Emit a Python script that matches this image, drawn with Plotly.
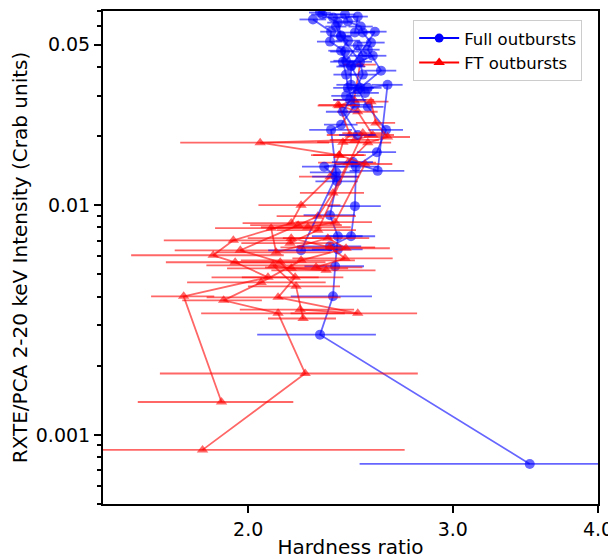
import plotly.graph_objects as go

# Full outbursts (hardness ratio, intensity in Crab, hardness error)
full1_hr = [2.274, 2.357, 2.352, 2.423, 2.413, 2.428, 2.437, 2.471, 2.404, 2.357, 2.380, 2.385, 2.352, 2.389, 2.376, 2.366, 2.306, 3.494]
full1_int = [0.0643, 0.0569, 0.0515, 0.0466, 0.0421, 0.0370, 0.0324, 0.0273, 0.0224, 0.02126, 0.0139, 0.0127, 0.00904, 0.00732, 0.00542, 0.00401, 0.00273, 0.000747]
full1_err = [0.06, 0.05, 0.06, 0.07, 0.06, 0.06, 0.07, 0.08, 0.08, 0.10, 0.12, 0.10, 0.12, 0.12, 0.14, 0.19, 0.27, 1.0]

full2_hr = [2.316, 2.423, 2.437, 2.500, 2.510, 2.551, 2.535, 2.602, 2.485, 2.535, 2.628, 2.581, 2.476, 2.471, 2.452, 2.352]
full2_int = [0.0676, 0.0676, 0.0630, 0.0599, 0.0564, 0.0510, 0.0475, 0.0385, 0.0318, 0.0268, 0.02126, 0.0170, 0.0147, 0.00990, 0.00732, 0.00662]
full2_err = [0.05, 0.05, 0.06, 0.06, 0.06, 0.07, 0.06, 0.08, 0.07, 0.08, 0.09, 0.10, 0.11, 0.13, 0.12, 0.15]

full3_hr = [2.366, 2.485, 2.471, 2.571, 2.452, 2.452, 2.535, 2.636, 2.585, 2.461, 2.325, 2.380, 2.221, 2.389]
full3_int = [0.0656, 0.0662, 0.0564, 0.0569, 0.0401, 0.0334, 0.0324, 0.0334, 0.0141, 0.0154, 0.0147, 0.0133, 0.00636, 0.00642]
full3_err = [0.05, 0.05, 0.06, 0.06, 0.07, 0.07, 0.07, 0.08, 0.14, 0.10, 0.10, 0.11, 0.14, 0.12]

full4_hr = [2.380, 2.404, 2.496, 2.510, 2.447, 2.413, 2.485]
full4_int = [0.0599, 0.0542, 0.0421, 0.0370, 0.0287, 0.0255, 0.0202]
full4_err = [0.05, 0.05, 0.06, 0.07, 0.08, 0.08, 0.09]

full5_hr = [2.306, 2.389, 2.404, 2.437, 2.404, 2.428, 2.485, 2.510, 2.560, 2.452, 2.521, 2.496, 2.428]
full5_int = [0.0689, 0.0623, 0.0547, 0.0520, 0.0470, 0.0425, 0.0495, 0.0447, 0.0447, 0.0405, 0.0308, 0.0324, 0.0299]
full5_err = [0.05, 0.05, 0.05, 0.06, 0.06, 0.06, 0.06, 0.06, 0.07, 0.06, 0.07, 0.07, 0.07]

# FT outbursts
ft1_hr = [2.496, 2.467, 2.395, 2.447, 2.413, 2.395, 2.352, 2.221, 2.178, 1.942, 1.866, 1.949, 2.080, 1.760, 1.897]
ft1_int = [0.0409, 0.0287, 0.0271, 0.0202, 0.0188, 0.0165, 0.0133, 0.0100, 0.00835, 0.00703, 0.00605, 0.00564, 0.00485, 0.00401, 0.00139]
ft1_err = [0.08, 0.10, 0.10, 0.11, 0.12, 0.12, 0.14, 0.18, 0.20, 0.25, 0.28, 0.25, 0.22, 0.11, 0.29]

ft2_hr = [2.551, 2.576, 2.636, 2.535, 2.437, 2.366, 2.296, 2.208, 1.969, 2.131, 2.195, 2.122, 2.485, 2.217]
ft2_int = [0.0282, 0.0228, 0.0198, 0.0187, 0.0153, 0.0113, 0.00895, 0.00818, 0.00636, 0.00564, 0.00485, 0.00397, 0.00338, 0.00351]
ft2_err = [0.09, 0.10, 0.12, 0.12, 0.14, 0.15, 0.18, 0.20, 0.24, 0.20, 0.22, 0.28, 0.31, 0.25]

ft3_hr = [2.389, 2.485, 2.560, 2.471, 2.048, 2.395, 2.521, 2.376, 2.251, 2.093, 2.114, 2.342, 2.428, 2.221, 2.052, 1.905, 2.122, 2.239, 1.827]
ft3_int = [0.0273, 0.0255, 0.0202, 0.01923, 0.0187, 0.0165, 0.0151, 0.00843, 0.00801, 0.00794, 0.00623, 0.00718, 0.00649, 0.00575, 0.00461, 0.00385, 0.00338, 0.00185, 0.00086]
ft3_err = [0.09, 0.10, 0.11, 0.12, 0.30, 0.13, 0.14, 0.18, 0.20, 0.22, 0.24, 0.20, 0.22, 0.25, 0.28, 0.15, 0.30, 0.56, 0.9]

ft4_hr = [2.510, 2.296, 2.173, 2.178, 2.352, 2.423, 2.288, 2.334, 2.178, 2.101, 2.199, 2.230]
ft4_int = [0.0206, 0.00778, 0.00683, 0.00718, 0.00655, 0.00587, 0.00536, 0.00520, 0.00531, 0.00547, 0.00443, 0.00321]
ft4_err = [0.10, 0.18, 0.20, 0.18, 0.22, 0.24, 0.22, 0.24, 0.26, 0.26, 0.20, 0.15]

y_ticks = [0.001, 0.01, 0.05]
y_ticktext = ['0.001', '0.01', '0.05']
y_minor = [0.0005, 0.0006, 0.0007, 0.0008, 0.0009, 0.002, 0.003, 0.004, 0.005,
           0.006, 0.007, 0.008, 0.009, 0.02, 0.03, 0.04, 0.06, 0.07]
x_ticks = [2.0, 3.0, 4.0]
x_ticktext = ['2.0', '3.0', '4.0']

BLUE = 'rgba(0,0,255,0.6)'
RED = 'rgba(255,0,0,0.6)'

full = [(full1_hr, full1_int, full1_err), (full2_hr, full2_int, full2_err),
        (full3_hr, full3_int, full3_err), (full4_hr, full4_int, full4_err),
        (full5_hr, full5_int, full5_err)]
ft = [(ft1_hr, ft1_int, ft1_err), (ft2_hr, ft2_int, ft2_err),
      (ft3_hr, ft3_int, ft3_err), (ft4_hr, ft4_int, ft4_err)]


def outburst_trace(hr, inten, err, color, symbol, size):
    return go.Scatter(
        x=hr, y=inten, mode='lines+markers', showlegend=False,
        line=dict(color=color, width=1.8),
        marker=dict(color=color, symbol=symbol, size=size, line=dict(width=0)),
        error_x=dict(type='data', array=err, color=color, thickness=1.8, width=0),
    )


fig = go.Figure()
for i in range(5):
    fig.add_trace(outburst_trace(*full[i], BLUE, 'circle', 10))
    if i < len(ft):
        fig.add_trace(outburst_trace(*ft[i], RED, 'triangle-up', 10))

# legend entries (opaque, like matplotlib's legend handles)
fig.add_trace(go.Scatter(x=[None], y=[None], mode='lines+markers', name='Full outbursts',
                         line=dict(color='blue', width=2), marker=dict(color='blue', symbol='circle', size=9)))
fig.add_trace(go.Scatter(x=[None], y=[None], mode='lines+markers', name='FT outbursts',
                         line=dict(color='red', width=2), marker=dict(color='red', symbol='triangle-up', size=10)))

axis_font = dict(family='DejaVu Sans', size=19, color='black')
# page body adds an 8px offset, so the figure is sized 8px smaller
fig.update_layout(
    width=608, height=551,
    margin=dict(l=95, r=18, t=3, b=55),
    paper_bgcolor='white', plot_bgcolor='white',
    font=dict(family='DejaVu Sans', color='black'),
    legend=dict(x=0.968, y=0.982, xanchor='right', yanchor='top', itemwidth=40,
                bordercolor='#cccccc', borderwidth=1, bgcolor='rgba(255,255,255,0.8)',
                font=dict(family='DejaVu Sans', size=16.5)),
    xaxis=dict(type='log', range=[0.17609, 0.60206], automargin=False,
               title=dict(text='Hardness ratio', font=dict(size=20), standoff=4),
               tickvals=x_ticks, ticktext=x_ticktext, tickfont=axis_font,
               ticks='outside', ticklen=7, tickwidth=2, tickcolor='black',
               showline=True, linewidth=2, linecolor='black', mirror=True,
               showgrid=False, zeroline=False),
    yaxis=dict(type='log', range=[-3.30103, -1.1549], automargin=False,
               title=dict(text='RXTE/PCA 2-20 keV Intensity (Crab units)', font=dict(size=20), standoff=4),
               tickvals=y_ticks, ticktext=y_ticktext, tickfont=axis_font,
               ticks='outside', ticklen=7, tickwidth=2, tickcolor='black',
               minor=dict(tickvals=y_minor, ticks='outside', ticklen=4.5, tickwidth=1.5, tickcolor='black', showgrid=False),
               showline=True, linewidth=2, linecolor='black', mirror=True,
               showgrid=False, zeroline=False),
)

fig.write_html("out.html")
